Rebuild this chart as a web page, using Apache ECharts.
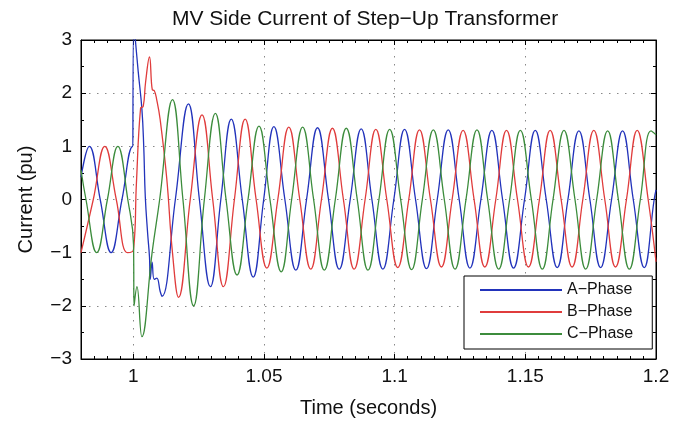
<!DOCTYPE html>
<html>
<head>
<meta charset="utf-8">
<script src="https://cdn.jsdelivr.net/npm/echarts@6/dist/echarts.min.js"></script>
<style>
html,body{margin:0;padding:0;background:#fff;}
#chart{width:679px;height:423px;}
</style>
</head>
<body>
<div id="chart"></div>
<script>
const titleText = 'MV Side Current of Step\u2212Up Transformer';
const xAxisName = 'Time (seconds)';
const yAxisName = 'Current (pu)';
const seriesNames = ['A\u2212Phase', 'B\u2212Phase', 'C\u2212Phase'];
const xRange = [0.98, 1.2];
const yRange = [-3, 3];

// [time (s), current (pu)] at extrema / zero crossings
const phaseA = [
  [0.9800, 0.42], [0.98318, 1.00], [0.98735, 0.00], [0.99152, -1.00], [0.99568, 0.00], [0.99985, 1.00],
  [1.00010, 1.00], [1.00020, 3.30], [1.00080, 3.00], [1.00190, 2.40], [1.00330, 1.70], [1.00400, 1.00],
  [1.00460, 0.05], [1.00550, -0.64], [1.00620, -1.08], [1.00650, -1.50], [1.00720, -1.18], [1.00800, -1.50],
  [1.00900, -1.48], [1.01030, -1.73], [1.01100, -1.82], [1.01610, 0.00], [1.02110, 1.80], [1.02530, 0.00],
  [1.02950, -1.64], [1.03350, 0.00], [1.03750, 1.51], [1.04170, 0.00], [1.04590, -1.46], [1.04990, 0.00],
  [1.05380, 1.37], [1.05800, 0.00], [1.06220, -1.33], [1.06630, 0.00], [1.07050, 1.35], [1.07470, 0.00],
  [1.07880, -1.31], [1.08300, 0.00], [1.08720, 1.33], [1.09130, 0.00], [1.09550, -1.31], [1.09970, 0.00],
  [1.10380, 1.32], [1.10800, 0.00], [1.11220, -1.30], [1.11630, 0.00], [1.12050, 1.31], [1.12470, 0.00],
  [1.12880, -1.29], [1.13300, 0.00], [1.13720, 1.30], [1.14130, 0.00], [1.14550, -1.29], [1.14970, 0.00],
  [1.15380, 1.30], [1.15800, 0.00], [1.16220, -1.28], [1.16630, 0.00], [1.17050, 1.29], [1.17470, 0.00],
  [1.17880, -1.28], [1.18300, 0.00], [1.18720, 1.29], [1.19130, 0.00], [1.19550, -1.28], [1.19930, 0.00],
  [1.20000, 0.18]
];
const phaseB = [
  [0.9800, -1.00], [0.98470, 0.00], [0.98910, 1.00], [0.99350, 0.00], [0.99780, -1.00], [1.00010, -0.94],
  [1.00120, 0.30], [1.00280, 1.72], [1.00380, 1.75], [1.00470, 2.20], [1.00620, 2.68], [1.00730, 2.06],
  [1.00800, 2.05], [1.00900, 1.87], [1.01030, 1.50], [1.01280, 0.40], [1.01500, -1.00], [1.01730, -1.84],
  [1.02180, 0.00], [1.02630, 1.59], [1.03040, 0.00], [1.03450, -1.64], [1.03870, 0.00], [1.04280, 1.51],
  [1.04700, 0.00], [1.05110, -1.29], [1.05530, 0.00], [1.05950, 1.36], [1.06370, 0.00], [1.06790, -1.31],
  [1.07200, 0.00], [1.07620, 1.34], [1.08040, 0.00], [1.08450, -1.31], [1.08870, 0.00], [1.09280, 1.32],
  [1.09700, 0.00], [1.10120, -1.28], [1.10540, 0.00], [1.10950, 1.31], [1.11370, 0.00], [1.11790, -1.27],
  [1.12200, 0.00], [1.12620, 1.30], [1.13040, 0.00], [1.13450, -1.27], [1.13870, 0.00], [1.14280, 1.30],
  [1.14700, 0.00], [1.15120, -1.27], [1.15540, 0.00], [1.15950, 1.30], [1.16370, 0.00], [1.16790, -1.27],
  [1.17200, 0.00], [1.17620, 1.30], [1.18040, 0.00], [1.18450, -1.27], [1.18870, 0.00], [1.19280, 1.30],
  [1.19700, 0.00], [1.20000, -1.17]
];
const phaseC = [
  [0.9800, 0.55], [0.98190, 0.00], [0.98600, -1.00], [0.99010, 0.00], [0.99410, 1.00], [0.99790, 0.00],
  [1.00010, -0.85], [1.00030, -2.00], [1.00140, -1.64], [1.00330, -2.58], [1.00720, -1.00], [1.01010, 0.00],
  [1.01500, 1.88], [1.01900, 0.00], [1.02310, -2.00], [1.02720, 0.00], [1.03140, 1.62], [1.03550, 0.00],
  [1.03970, -1.42], [1.04390, 0.00], [1.04810, 1.38], [1.05230, 0.00], [1.05660, -1.36], [1.06060, 0.00],
  [1.06480, 1.36], [1.06900, 0.00], [1.07310, -1.33], [1.07730, 0.00], [1.08150, 1.34], [1.08570, 0.00],
  [1.08980, -1.33], [1.09400, 0.00], [1.09810, 1.32], [1.10230, 0.00], [1.10650, -1.32], [1.11060, 0.00],
  [1.11480, 1.31], [1.11900, 0.00], [1.12310, -1.31], [1.12730, 0.00], [1.13150, 1.31], [1.13560, 0.00],
  [1.13980, -1.31], [1.14400, 0.00], [1.14810, 1.30], [1.15230, 0.00], [1.15650, -1.31], [1.16060, 0.00],
  [1.16480, 1.30], [1.16900, 0.00], [1.17310, -1.31], [1.17730, 0.00], [1.18150, 1.29], [1.18560, 0.00],
  [1.18980, -1.31], [1.19400, 0.00], [1.19810, 1.29], [1.20000, 1.22]
];
const seriesColors = ['#2233bb', '#e03c3c', '#3c8c3c'];

const FONT = '"Liberation Sans", Arial, Helvetica, sans-serif';
const minus = v => String(v).replace('-', '\u2212');

const chart = echarts.init(document.getElementById('chart'), null, {renderer: 'canvas'});
const gridLine = {show: true, lineStyle: {color: '#888', width: 1, type: [1.5, 6.5]}};
const tickStyle = {show: true, inside: true, length: 5, lineStyle: {color: '#000', width: 1}};
const minorStyle = {show: true, length: 3, lineStyle: {color: '#000', width: 1}};

chart.setOption({
  animation: false,
  backgroundColor: '#fff',
  title: {
    text: titleText, left: 172, top: 9, padding: 0,
    textStyle: {fontFamily: FONT, fontSize: 21, fontWeight: 'normal', color: '#111'}
  },
  grid: {left: 81, right: 23, top: 40, bottom: 64, containLabel: false,
    show: true, borderColor: '#000', borderWidth: 1, backgroundColor: '#fff'},
  legend: {
    orient: 'vertical', left: 464, top: 276,
    backgroundColor: '#fff', borderColor: '#000', borderWidth: 1,
    padding: [6, 19, 7, 16], itemGap: 6, itemWidth: 82, itemHeight: 2, itemTextGap: 8,
    icon: 'rect',
    textStyle: {fontFamily: FONT, fontSize: 16, color: '#111', lineHeight: 16},
    data: seriesNames
  },
  xAxis: [{
    type: 'value', min: xRange[0], max: xRange[1], splitNumber: 5,
    name: xAxisName, nameLocation: 'middle', nameGap: 39,
    nameTextStyle: {fontFamily: FONT, fontSize: 20, color: '#111'},
    axisLine: {show: true, onZero: false, lineStyle: {color: '#000'}},
    axisTick: tickStyle, minorTick: Object.assign({splitNumber: 10}, minorStyle),
    axisLabel: {showMinLabel: false, fontFamily: FONT, fontSize: 19, color: '#111', margin: 8},
    splitLine: gridLine
  }, {
    type: 'value', position: 'top', min: xRange[0], max: xRange[1], splitNumber: 5,
    axisLine: {show: true, onZero: false, lineStyle: {color: '#000'}},
    axisTick: tickStyle, minorTick: Object.assign({splitNumber: 10}, minorStyle),
    axisLabel: {show: false}, splitLine: {show: false}
  }],
  yAxis: [{
    type: 'value', min: yRange[0], max: yRange[1], interval: 1,
    name: yAxisName, nameLocation: 'middle', nameGap: 45,
    nameTextStyle: {fontFamily: FONT, fontSize: 20, color: '#111'},
    axisLine: {show: true, onZero: false, lineStyle: {color: '#000'}},
    axisTick: tickStyle, minorTick: Object.assign({splitNumber: 2}, minorStyle),
    axisLabel: {fontFamily: FONT, fontSize: 19, color: '#111', margin: 9, formatter: minus},
    splitLine: gridLine
  }, {
    type: 'value', position: 'right', min: yRange[0], max: yRange[1], interval: 1,
    axisLine: {show: true, onZero: false, lineStyle: {color: '#000'}},
    axisTick: tickStyle, minorTick: Object.assign({splitNumber: 2}, minorStyle),
    axisLabel: {show: false}, splitLine: {show: false}
  }],
  series: [phaseA, phaseB, phaseC].map((d, i) => ({
    name: seriesNames[i], type: 'line', data: d, xAxisIndex: 0, yAxisIndex: 0,
    smooth: 0.45, symbol: 'none', clip: true,
    lineStyle: {color: seriesColors[i], width: 1.3}, itemStyle: {color: seriesColors[i]}
  }))
});
</script>
</body>
</html>
